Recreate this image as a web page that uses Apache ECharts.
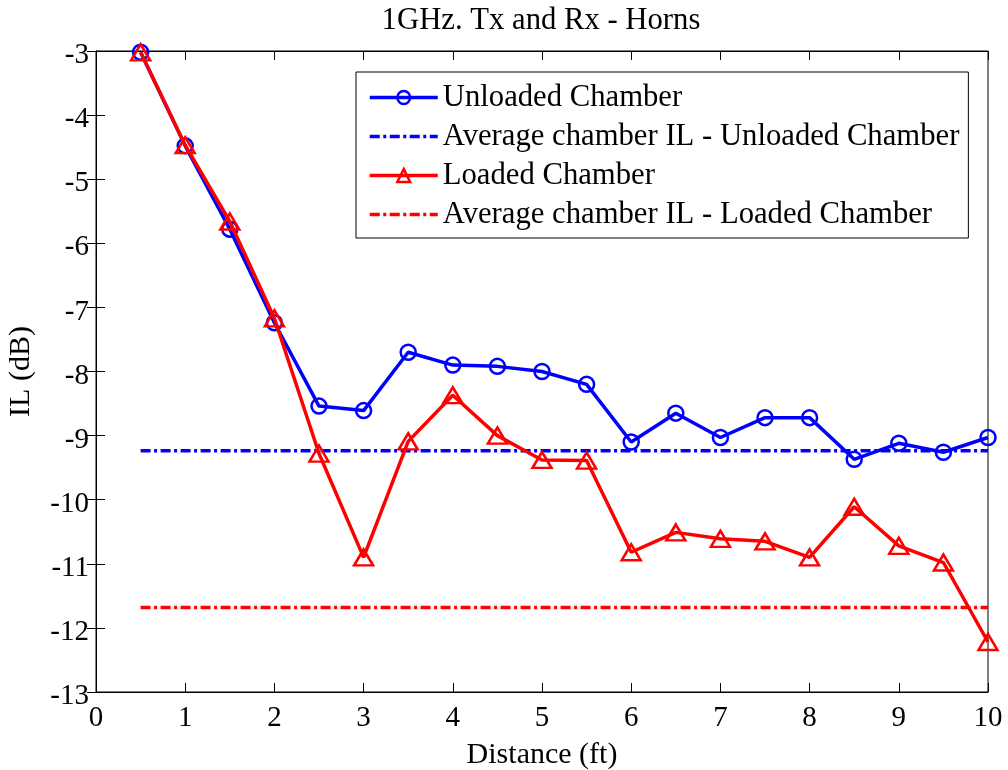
<!DOCTYPE html>
<html>
<head>
<meta charset="utf-8">
<script src="https://cdn.jsdelivr.net/npm/echarts@6/dist/echarts.min.js"></script>
<style>
  html, body { margin: 0; padding: 0; background: #fff; }
  #chart { width: 1008px; height: 770px; }
</style>
</head>
<body>
<div id="chart"></div>
<script>
// Insertion loss vs. distance, 1 GHz, horn antennas
const distance = [0.5, 1, 1.5, 2, 2.5, 3, 3.5, 4, 4.5, 5, 5.5, 6, 6.5, 7, 7.5, 8, 8.5, 9, 9.5, 10];
const unloaded = [-3.02, -4.48, -5.78, -7.24, -8.54, -8.61, -7.70, -7.90, -7.92, -8.00,
                  -8.20, -9.10, -8.65, -9.03, -8.72, -8.72, -9.37, -9.12, -9.26, -9.03];
const loaded = [-3.02, -4.47, -5.66, -7.17, -9.28, -10.90, -9.09, -8.37, -9.00, -9.38,
                -9.39, -10.82, -10.51, -10.61, -10.65, -10.90, -10.11, -10.72, -10.98, -12.22];
const avgUnloaded = -9.235;
const avgLoaded = -11.68;
const avgSpan = [0.5, 10];

const seriesNames = [
  'Unloaded Chamber',
  'Average chamber IL - Unloaded Chamber',
  'Loaded Chamber',
  'Average chamber IL - Loaded Chamber'
];
const titleText = '1GHz. Tx and Rx - Horns';
const xName = 'Distance (ft)';
const yName = 'IL (dB)';

const FONT = '"Liberation Serif", "Times New Roman", serif';
const BLUE = '#0000ff';
const RED = '#ff0000';
const CLEAR = 'rgba(255,255,255,0)';
const DASHDOT = [10, 3.5, 3, 3.5];
const LW = 3.5;

const pairs = (xs, ys) => xs.map((x, i) => [x, ys[i]]);
const flat = (v) => avgSpan.map(x => [x, v]);

const tickStyle = { show: true, inside: true, length: 9, lineStyle: { color: '#000', width: 1 } };
const lineStyleAxis = { show: true, lineStyle: { color: '#000', width: 1 } };

const chart = echarts.init(document.getElementById('chart'), null, { renderer: 'canvas' });
chart.setOption({
  animation: false,
  backgroundColor: '#fff',
  title: {
    text: titleText,
    left: 541,
    textAlign: 'center',
    top: 5,
    padding: 0,
    textStyle: { fontFamily: FONT, fontSize: 30.7, fontWeight: 'normal', color: '#000' }
  },
  grid: {
    left: 96, right: 20, top: 51, bottom: 78,
    outerBoundsMode: 'none',
    containLabel: false,
    show: true, borderColor: '#000', borderWidth: 1, backgroundColor: '#fff'
  },
  legend: {
    orient: 'vertical',
    left: 356,
    top: 72,
    padding: [10, 9, 8, 12],
    itemGap: 8,
    itemWidth: 68,
    itemHeight: 16,
    backgroundColor: '#fff',
    borderColor: '#000',
    borderWidth: 1,
    borderRadius: 0,
    data: [
      { name: seriesNames[0], itemStyle: { color: CLEAR, borderColor: BLUE, borderWidth: 2.5 }, lineStyle: { color: BLUE, width: LW } },
      { name: seriesNames[1], itemStyle: { color: CLEAR, borderColor: CLEAR, borderWidth: 0 }, lineStyle: { color: BLUE, width: LW, type: DASHDOT } },
      { name: seriesNames[2], itemStyle: { color: CLEAR, borderColor: RED, borderWidth: 2.5 }, lineStyle: { color: RED, width: LW } },
      { name: seriesNames[3], itemStyle: { color: CLEAR, borderColor: CLEAR, borderWidth: 0 }, lineStyle: { color: RED, width: LW, type: DASHDOT } }
    ],
    textStyle: { fontFamily: FONT, fontSize: 30.7, color: '#000', lineHeight: 30 }
  },
  xAxis: [{
    type: 'value', min: 0, max: 10, interval: 1,
    name: xName, nameLocation: 'middle', nameGap: 48,
    nameTextStyle: { fontFamily: FONT, fontSize: 30, color: '#000' },
    axisLine: lineStyleAxis, axisTick: tickStyle,
    axisLabel: { fontFamily: FONT, fontSize: 29, color: '#000', margin: 12 },
    splitLine: { show: false }
  }, {
    type: 'value', min: 0, max: 10, interval: 1, position: 'top',
    axisLine: lineStyleAxis, axisTick: tickStyle,
    axisLabel: { show: false }, splitLine: { show: false }
  }],
  yAxis: [{
    type: 'value', min: -13, max: -3, interval: 1,
    name: yName, nameLocation: 'middle', nameGap: 60, nameRotate: 90,
    nameTextStyle: { fontFamily: FONT, fontSize: 30, color: '#000' },
    axisLine: lineStyleAxis, axisTick: tickStyle,
    axisLabel: { fontFamily: FONT, fontSize: 29, color: '#000', margin: 7, verticalAlign: 'top', lineHeight: 9 },
    splitLine: { show: false }
  }, {
    type: 'value', min: -13, max: -3, interval: 1, position: 'right',
    axisLine: lineStyleAxis, axisTick: tickStyle,
    axisLabel: { show: false }, splitLine: { show: false }
  }],
  series: [{
    name: seriesNames[0],
    type: 'line',
    data: pairs(distance, unloaded),
    symbol: 'circle',
    symbolSize: 15,
    itemStyle: { color: CLEAR, borderColor: BLUE, borderWidth: 2.5 },
    lineStyle: { color: BLUE, width: LW },
    z: 2
  }, {
    name: seriesNames[1],
    type: 'line',
    data: flat(avgUnloaded),
    symbol: 'circle',
    showSymbol: false,
    itemStyle: { color: CLEAR, borderWidth: 0 },
    lineStyle: { color: BLUE, width: LW, type: DASHDOT },
    z: 3
  }, {
    name: seriesNames[2],
    type: 'line',
    data: pairs(distance, loaded),
    symbol: 'triangle',
    symbolSize: [19, 16],
    itemStyle: { color: CLEAR, borderColor: RED, borderWidth: 2.5 },
    lineStyle: { color: RED, width: LW },
    z: 4
  }, {
    name: seriesNames[3],
    type: 'line',
    data: flat(avgLoaded),
    symbol: 'circle',
    showSymbol: false,
    itemStyle: { color: CLEAR, borderWidth: 0 },
    lineStyle: { color: RED, width: LW, type: DASHDOT },
    z: 5
  }]
});
</script>
</body>
</html>
